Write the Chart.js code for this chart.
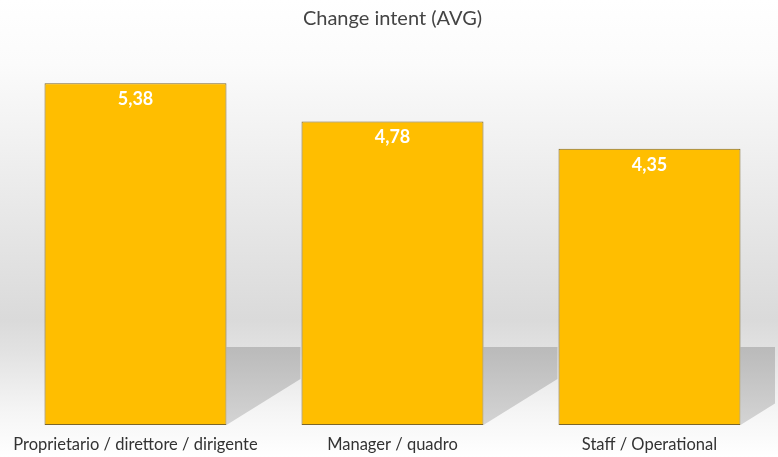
<!DOCTYPE html>
<html>
<head>
<meta charset="utf-8">
<script src="https://cdn.jsdelivr.net/npm/chart.js@4/dist/chart.umd.min.js"></script>
<style>
  html, body { margin: 0; padding: 0; background: #fff; }
  canvas { display: block; }
</style>
</head>
<body>
<canvas id="chart" width="778" height="457"></canvas>
<script>
const categories = ['Proprietario / direttore / dirigente', 'Manager / quadro', 'Staff / Operational'];
const values = [5.38, 4.78, 4.35];
const yMax = 6;

// sfondo "stanza" con pavimento e ombre diagonali dietro le barre
const backdrop = {
    id: 'backdrop',
    beforeDraw(chart) {
        const { ctx, width, height } = chart;
        const wall = ctx.createLinearGradient(0, 0, 0, height);
        wall.addColorStop(0, '#ffffff');
        wall.addColorStop(0.14, '#fbfbfb');
        wall.addColorStop(0.7, '#dadada');
        wall.addColorStop(0.77, '#e2e2e2');
        wall.addColorStop(0.9, '#f5f5f5');
        wall.addColorStop(1, '#ffffff');
        ctx.save();
        ctx.fillStyle = wall;
        ctx.fillRect(0, 0, width, height);
        ctx.restore();
    },
    beforeDatasetsDraw(chart) {
        const { ctx, chartArea } = chart;
        const horizon = chartArea.bottom - 78;
        ctx.save();
        ctx.beginPath();
        ctx.rect(chartArea.left - 10, chartArea.top, chart.width, chartArea.bottom - chartArea.top);
        ctx.clip();
        chart.getDatasetMeta(0).data.forEach(bar => {
            const right = bar.x + bar.width / 2;
            const g = ctx.createLinearGradient(0, horizon, 0, bar.base);
            g.addColorStop(0, '#bababa');
            g.addColorStop(1, '#d4d4d4');
            ctx.fillStyle = g;
            ctx.beginPath();
            ctx.moveTo(right, horizon);
            ctx.lineTo(right + 74, horizon);
            ctx.lineTo(right + 74, bar.base - 46);
            ctx.lineTo(right, bar.base);
            ctx.closePath();
            ctx.fill();
        });
        ctx.restore();
    },
    afterDatasetsDraw(chart) {
        const { ctx } = chart;
        ctx.save();
        ctx.fillStyle = '#ffffff';
        ctx.font = 'bold 18px Lato';
        ctx.textAlign = 'center';
        ctx.textBaseline = 'middle';
        chart.getDatasetMeta(0).data.forEach((bar, i) => {
            ctx.fillText(values[i].toFixed(2).replace('.', ','), bar.x, bar.y + 16);
        });
        ctx.restore();
    }
};

new Chart(document.getElementById('chart').getContext('2d'), {
    type: 'bar',
    data: {
        labels: categories,
        datasets: [{
            data: values,
            backgroundColor: '#ffbe00',
            borderColor: '#7d6628',
            borderWidth: 1,
            borderSkipped: false,
            categoryPercentage: 1,
            barPercentage: 0.708
        }]
    },
    options: {
        responsive: false,
        animation: false,
        layout: { padding: { left: 7, right: 0, bottom: 0, top: 0 } },
        plugins: {
            legend: { display: false },
            tooltip: { enabled: false },
            title: {
                display: true,
                text: 'Change intent (AVG)',
                color: '#444444',
                font: { family: 'Lato', size: 20, weight: 'normal' },
                padding: { top: 7, bottom: 13 }
            }
        },
        scales: {
            y: { display: false, min: 0, max: yMax },
            x: {
                grid: { display: false, drawTicks: false },
                border: { display: false },
                afterFit(scale) { scale.height = 32; },
                ticks: {
                    color: '#333333',
                    padding: 10,
                    maxRotation: 0,
                    font: { family: 'Lato', size: 16.5 }
                }
            }
        }
    },
    plugins: [backdrop]
});
</script>
</body>
</html>
